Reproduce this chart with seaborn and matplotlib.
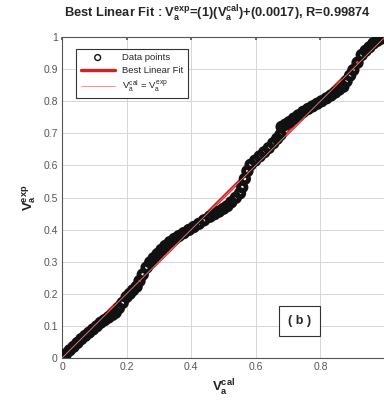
import matplotlib
matplotlib.use("Agg")
import matplotlib.pyplot as plt
import seaborn as sns
import pandas as pd

# Data
v_cal = [0.000, 0.012, 0.024, 0.036, 0.048, 0.060, 0.072, 0.084, 0.096, 0.108,
         0.120, 0.132, 0.144, 0.156, 0.166, 0.176, 0.188, 0.200, 0.210, 0.220,
         0.231, 0.240, 0.250, 0.262, 0.273, 0.284, 0.296, 0.308, 0.320, 0.334,
         0.348, 0.362, 0.377, 0.393, 0.408, 0.424, 0.440, 0.458, 0.472, 0.486,
         0.500, 0.512, 0.524, 0.538, 0.551, 0.558, 0.566, 0.574, 0.584, 0.598,
         0.612, 0.626, 0.640, 0.654, 0.666, 0.676, 0.680, 0.692, 0.704, 0.718,
         0.732, 0.747, 0.762, 0.776, 0.790, 0.804, 0.819, 0.833, 0.846, 0.858,
         0.871, 0.881, 0.892, 0.902, 0.915, 0.928, 0.940, 0.952, 0.964, 0.976,
         0.988, 1.000]
v_exp = [0.000, 0.012, 0.024, 0.035, 0.047, 0.059, 0.069, 0.079, 0.089, 0.099,
         0.110, 0.118, 0.126, 0.134, 0.141, 0.155, 0.172, 0.190, 0.200, 0.211,
         0.222, 0.240, 0.260, 0.282, 0.298, 0.311, 0.324, 0.337, 0.349, 0.361,
         0.371, 0.380, 0.389, 0.399, 0.408, 0.418, 0.429, 0.440, 0.448, 0.456,
         0.465, 0.473, 0.485, 0.499, 0.513, 0.532, 0.558, 0.582, 0.602, 0.615,
         0.628, 0.641, 0.654, 0.669, 0.683, 0.695, 0.720, 0.727, 0.735, 0.746,
         0.756, 0.767, 0.776, 0.784, 0.792, 0.800, 0.809, 0.818, 0.827, 0.836,
         0.845, 0.862, 0.880, 0.897, 0.920, 0.944, 0.957, 0.968, 0.980, 0.988,
         0.995, 1.003]
fit_slope = 1.0
fit_intercept = 0.0017
line_x = [0.0, 1.0]

x_ticks = [0, 0.2, 0.4, 0.6, 0.8, 1.0]
x_tick_labels = ["0", "0.2", "0.4", "0.6", "0.8", ""]
y_ticks = [0, 0.1, 0.2, 0.3, 0.4, 0.5, 0.6, 0.7, 0.8, 0.9, 1.0]
y_tick_labels = ["0", "0.1", "0.2", "0.3", "0.4", "0.5", "0.6", "0.7", "0.8", "0.9", "1"]

sns.set_theme(style="whitegrid")
plt.rcParams["font.family"] = ["Liberation Sans", "DejaVu Sans"]
plt.rcParams["mathtext.fontset"] = "custom"
plt.rcParams["mathtext.rm"] = "Liberation Sans"
plt.rcParams["mathtext.it"] = "Liberation Sans"
plt.rcParams["mathtext.bf"] = "Liberation Sans:bold"

fig = plt.figure(figsize=(3.84, 4.01), dpi=100)
ax = fig.add_axes([62 / 384, 43 / 401, 323 / 384, 321 / 401])

df = pd.DataFrame({"cal": v_cal, "exp": v_exp})
fit_df = pd.DataFrame({"x": line_x, "y": [fit_slope * v + fit_intercept for v in line_x]})
id_df = pd.DataFrame({"x": line_x, "y": line_x})

sns.lineplot(data=fit_df, x="x", y="y", ax=ax, color="#d42020", linewidth=2.4,
             label="Best Linear Fit", zorder=2)
sns.scatterplot(data=df, x="cal", y="exp", ax=ax, marker="o", s=30,
                facecolor="none", edgecolor="#111111", linewidth=3.4,
                label="Data points", zorder=3)
sns.lineplot(data=id_df, x="x", y="y", ax=ax, color="#f08080", linewidth=0.6,
             label=r"$V_a^{cal}$ = $V_a^{exp}$", zorder=4)

ax.set_xlim(0, 1)
ax.set_ylim(0, 1)
ax.set_xticks(x_ticks)
ax.set_xticklabels(x_tick_labels)
ax.set_yticks(y_ticks)
ax.set_yticklabels(y_tick_labels)
ax.tick_params(axis="both", labelsize=7.5, colors="#555555", length=2, direction="in",
               pad=3, top=True, right=False)
ax.grid(True, color="#d6d6d6", linewidth=0.7)
for s in ["left", "bottom", "top"]:
    ax.spines[s].set_color("#555555")
    ax.spines[s].set_linewidth(0.8)
ax.spines["right"].set_visible(False)

ax.set_xlabel(r"$\mathbf{V_a^{cal}}$", fontsize=9.5, labelpad=4, color="#222222")
ax.set_ylabel(r"$\mathbf{V_a^{exp}}$", fontsize=9.5, labelpad=4, color="#222222")
fig.text(64 / 384, 1 - 14 / 401,
         r"Best Linear Fit : $\mathbf{V_a^{exp}}$=(1)($\mathbf{V_a^{cal}}$)+(0.0017), R=0.99874",
         fontsize=9.3, fontweight="bold", ha="left", va="center")

handles, labels = ax.get_legend_handles_labels()
order = [labels.index("Data points"), labels.index("Best Linear Fit"), 2]
leg = ax.legend([handles[i] for i in order], [labels[i] for i in order],
                loc="upper left", bbox_to_anchor=(0.03, 0.978), fontsize=6.8,
                fancybox=False, framealpha=1, edgecolor="#333333",
                handlelength=3.6, borderpad=0.45, labelspacing=0.4)
leg.get_frame().set_linewidth(0.8)
leg.legend_handles[0].set_sizes([18])
leg.legend_handles[0].set_linewidth(1.0)

ax.text(0.735, 0.115, "( b )", fontsize=9, fontweight="bold", ha="center", va="center",
        bbox=dict(boxstyle="square,pad=0.7", facecolor="white", edgecolor="#333333", linewidth=0.8))

fig.savefig("out.png", dpi=100)
